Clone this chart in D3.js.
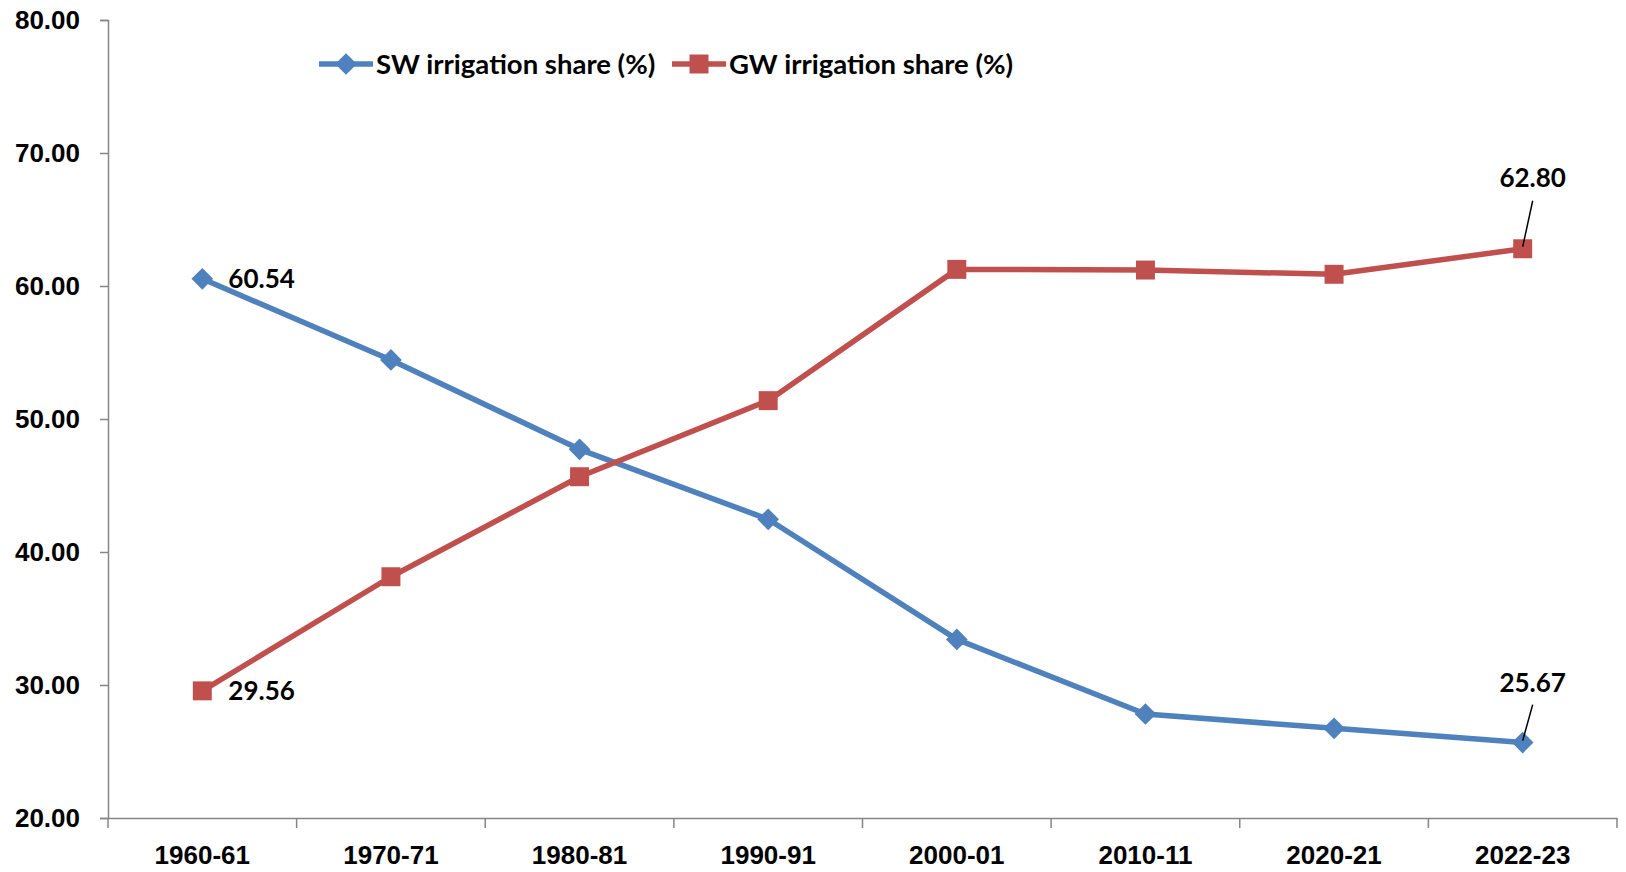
<!DOCTYPE html>
<html>
<head>
<meta charset="utf-8">
<script src="https://cdn.jsdelivr.net/npm/d3@7"></script>
<style>
	body { margin: 0; background: #fff; }
	svg { display: block; font-family: Lato, "Open Sans", sans-serif; font-weight: bold; }
</style>
</head>
<body>
<div class="chart"></div>
<script>
const years = ["1960-61", "1970-71", "1980-81", "1990-91", "2000-01", "2010-11", "2020-21", "2022-23"];
const swShare = [60.54, 54.44, 47.72, 42.46, 33.43, 27.82, 26.74, 25.67];
const gwShare = [29.56, 38.14, 45.66, 51.38, 61.25, 61.2, 60.88, 62.8];
const yTicks = [20, 30, 40, 50, 60, 70, 80];

const series = [
	{ name: "SW irrigation share (%)", values: swShare, color: "#4F81BD", shape: d3.symbolDiamond2 },
	{ name: "GW irrigation share (%)", values: gwShare, color: "#C0504D", shape: d3.symbolSquare }
];

const width = 1626,
	height = 872,
	margin = { top: 20, right: 9, bottom: 54, left: 108 };

const svg = d3
	.select(".chart")
	.append("svg")
	.attr("width", width)
	.attr("height", height);

const x = d3
	.scaleBand()
	.domain(years)
	.range([margin.left, width - margin.right]);

const y = d3
	.scaleLinear()
	.domain([20, 80])
	.range([height - margin.bottom, margin.top]);

const cx = (i) => x(years[i]) + x.bandwidth() / 2;

// y axis
svg.append("g")
	.attr("transform", "translate(" + margin.left + ",0)")
	.call(d3.axisLeft(y).tickValues(yTicks).tickFormat(d3.format(".2f")).tickSizeOuter(0).tickSize(8).tickPadding(20))
	.call((g) => g.selectAll("line, path").attr("stroke", "#868686").attr("stroke-width", 1.5))
	.call((g) => g.selectAll("text").attr("fill", "#000").style("font-size", "26px").style("font-weight", "bold"));

// x axis, ticks sit between categories
svg.append("g")
	.attr("transform", "translate(0," + y(20) + ")")
	.call(d3.axisBottom(x).tickSize(0).tickPadding(28))
	.call((g) => g.select("path").attr("stroke", "#868686").attr("stroke-width", 1.5))
	.call((g) => g.selectAll("text").attr("fill", "#000").style("font-size", "26px").style("font-weight", "bold"))
	.call((g) =>
		g
			.selectAll(".sep")
			.data(d3.range(years.length + 1))
			.enter()
			.append("line")
			.attr("x1", (i) => margin.left + i * x.step())
			.attr("x2", (i) => margin.left + i * x.step())
			.attr("y1", 0)
			.attr("y2", 10)
			.attr("stroke", "#868686")
			.attr("stroke-width", 1.5)
	);

const line = d3
	.line()
	.x((d, i) => cx(i))
	.y((d) => y(d));

series.forEach((s) => {
	svg.append("path")
		.datum(s.values)
		.attr("fill", "none")
		.attr("stroke", s.color)
		.attr("stroke-width", 5.5)
		.attr("stroke-linejoin", "round")
		.attr("d", line);

	svg.selectAll(null)
		.data(s.values)
		.enter()
		.append("path")
		.attr("transform", (d, i) => "translate(" + cx(i) + "," + y(d) + ")")
		.attr("d", d3.symbol().type(s.shape).size(s.shape === d3.symbolSquare ? 360 : 300))
		.attr("fill", s.color);
});

// data labels at the first point
[swShare[0], gwShare[0]].forEach((v) => {
	svg.append("text")
		.attr("x", cx(0) + 26)
		.attr("y", y(v))
		.attr("dy", "0.35em")
		.style("font-size", "26px")
		.text(v.toFixed(2));
});

// callouts at the last point (label lift, leader length)
const last = years.length - 1;
[[gwShare[last], 62, 48], [swShare[last], 51, 38]].forEach(([v, lift, lead]) => {
	const px = cx(last),
		py = y(v);
	svg.append("line")
		.attr("x1", px + 10)
		.attr("y1", py - lead)
		.attr("x2", px)
		.attr("y2", py - 2)
		.attr("stroke", "#000")
		.attr("stroke-width", 1.5);
	svg.append("text")
		.attr("x", px + 10)
		.attr("y", py - lift)
		.attr("text-anchor", "middle")
		.style("font-size", "26px")
		.text(v.toFixed(2));
});

// legend
const legend = svg
	.selectAll(".legend")
	.data(series)
	.enter()
	.append("g")
	.attr("transform", (d, i) => "translate(" + (319 + i * 353) + ",64)");

legend.append("line")
	.attr("x1", 0)
	.attr("x2", 54)
	.attr("stroke", (d) => d.color)
	.attr("stroke-width", 5.5);

legend.append("path")
	.attr("transform", "translate(27,0)")
	.attr("d", (d) => d3.symbol().type(d.shape).size(d.shape === d3.symbolSquare ? 360 : 300)())
	.attr("fill", (d) => d.color);

legend.append("text")
	.attr("x", 57)
	.attr("dy", "0.35em")
	.style("font-size", "27.5px")
	.text((d) => d.name);
</script>
</body>
</html>
